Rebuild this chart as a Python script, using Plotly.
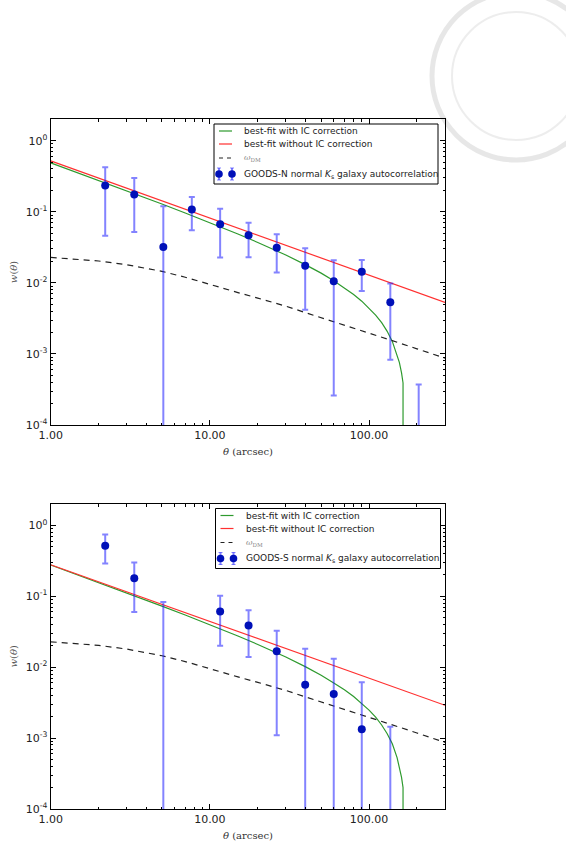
import numpy as np
import plotly.graph_objects as go

# ---------------- data ----------------
# GOODS-N normal Ks galaxy autocorrelation
theta_n = [2.2, 3.35, 5.1, 7.7, 11.6, 17.5, 26.3, 39.7, 60, 90, 136, 205]
w_n = [0.234, 0.175, 0.0319, 0.108, 0.0667, 0.0466, 0.0312, 0.0174, 0.01056, 0.0143, 0.00533, -0.0004]
err_n = [0.188, 0.123, 0.088, 0.053, 0.044, 0.0237, 0.0172, 0.0132, 0.0103, 0.0066, 0.0045, 0.00077]

# GOODS-S normal Ks galaxy autocorrelation
theta_s = [2.2, 3.35, 5.1, 11.6, 17.5, 26.3, 39.7, 60, 90, 136]
w_s = [0.516, 0.180, -0.010, 0.061, 0.0388, 0.0168, 0.00563, 0.0042, 0.00133, -0.0005]
err_s = [0.226, 0.12, 0.0927, 0.041, 0.0249, 0.0157, 0.0125, 0.0089, 0.0048, 0.00195]

# best-fit with IC correction (sampled off the curves)
theta_fit = [1, 2, 3, 5, 7, 10, 15, 20, 30, 40, 50, 60, 70, 80, 90, 100, 110, 120,
             130, 140, 150, 155, 160, 163.5, 163.6]
ic_n = [0.487, 0.2763, 0.1975, 0.1286, 0.0963, 0.0705, 0.0487, 0.0370, 0.0246, 0.0179,
        0.0137, 0.0107, 0.00854, 0.00686, 0.00552, 0.00443, 0.00352, 0.00275, 0.00208,
        0.00150, 0.00099, 0.00076, 0.00054, 0.00039, 1e-7]
ic_s = [0.2755, 0.1563, 0.1117, 0.0727, 0.0545, 0.0398, 0.0275, 0.0209, 0.0139, 0.0101,
        0.0077, 0.0060, 0.00481, 0.00386, 0.00310, 0.00248, 0.00197, 0.00153, 0.00115,
        0.00083, 0.00053, 0.00040, 0.00028, 0.00020, 1e-7]

# best-fit without IC correction (straight power laws)
theta_line = [1, 300]
noic_n = [0.52, 0.0053]
noic_s = [0.278, 0.0029]

# dark matter correlation function
theta_dm = [1, 1.5, 2, 3, 5, 7, 10, 15, 20, 30, 40, 60, 80, 100, 136, 200, 300]
w_dm = [0.0228, 0.0216, 0.0203, 0.0180, 0.0145, 0.0120, 0.0094, 0.0073, 0.0061, 0.0047,
        0.0038, 0.00285, 0.00232, 0.00197, 0.00157, 0.00118, 0.00087]

x_tickvals = [1, 10, 100]
x_ticktext = ["1.00", "10.00", "100.00"]
y_tickvals = [1e-4, 1e-3, 1e-2, 1e-1, 1]
y_ticktext = ["10<sup>-4</sup>", "10<sup>-3</sup>", "10<sup>-2</sup>", "10<sup>-1</sup>", "10<sup>0</sup>"]

legend_labels = ["best-fit with IC correction", "best-fit without IC correction",
                 "<i>ω</i><sub>DM</sub>"]
data_labels = ["GOODS-N normal <i>K</i><sub>s</sub> galaxy autocorrelation",
               "GOODS-S normal <i>K</i><sub>s</sub> galaxy autocorrelation"]

# ---------------- layout geometry ----------------
W, H = 566, 851
def px_x(p):
    return p / W
def px_y(p):
    return (H - p) / H

left, right = 50.7, 445
top1, bot1 = 119.3, 425
top2, bot2 = 504, 809

x_minor = [m * d for d in (1, 10, 100) for m in range(2, 10) if m * d <= 300]
y_minor = [m * d for d in (1e-4, 1e-3, 1e-2, 1e-1, 1) for m in range(2, 10) if m * d <= 2]

GREEN = "#2e9a2e"
RED = "#ff3030"
DASHC = "#222222"
BLUE_M = "#0010b8"
BLUE_E = "rgba(30,30,255,0.55)"

fig = go.Figure()

panels = [
    dict(xa="x", ya="y", th=theta_n, w=w_n, e=err_n, ic=ic_n, noic=noic_n),
    dict(xa="x2", ya="y2", th=theta_s, w=w_s, e=err_s, ic=ic_s, noic=noic_s),
]

for p in panels:
    fig.add_trace(go.Scatter(x=theta_fit, y=p["ic"], mode="lines", xaxis=p["xa"], yaxis=p["ya"],
                             line=dict(color=GREEN, width=1.2), name=legend_labels[0]))
    fig.add_trace(go.Scatter(x=theta_line, y=p["noic"], mode="lines", xaxis=p["xa"], yaxis=p["ya"],
                             line=dict(color=RED, width=1.2), name=legend_labels[1]))
    fig.add_trace(go.Scatter(x=theta_dm, y=w_dm, mode="lines", xaxis=p["xa"], yaxis=p["ya"],
                             line=dict(color=DASHC, width=1.2, dash="6px,5px"),
                             name=legend_labels[2]))
    fig.add_trace(go.Scatter(x=p["th"], y=p["w"], mode="markers", xaxis=p["xa"], yaxis=p["ya"],
                             marker=dict(color=BLUE_M, size=8),
                             error_y=dict(type="data", array=p["e"], visible=True, color=BLUE_E,
                                          thickness=2, width=3),
                             name="data"))
    # error bars of points whose value is negative (not drawable on a log axis):
    # anchor the bar at its upper end and let it run down past the axis.
    neg = [i for i, v in enumerate(p["w"]) if v <= 0]
    if neg:
        fig.add_trace(go.Scatter(
            x=[p["th"][i] for i in neg], y=[p["w"][i] + p["e"][i] for i in neg],
            mode="markers", xaxis=p["xa"], yaxis=p["ya"],
            marker=dict(color=BLUE_M, size=2, opacity=0),
            error_y=dict(type="data", symmetric=False, array=[0 for i in neg],
                         arrayminus=[2 * p["e"][i] for i in neg], visible=True,
                         color=BLUE_E, thickness=2, width=3),
            name="data (negative)", hoverinfo="skip"))

axis_common = dict(showline=True, linecolor="black", linewidth=1, mirror="allticks",
                   ticks="inside", ticklen=5, tickcolor="black", showgrid=False, zeroline=False,
                   type="log", automargin=False,
                   tickfont=dict(family="DejaVu Sans", size=11, color="#222"))

xa = dict(axis_common, range=[0, np.log10(300)], tickmode="array", tickvals=x_tickvals,
          ticktext=x_ticktext, domain=[px_x(left), px_x(right)],
          minor=dict(tickmode="array", tickvals=x_minor, ticks="inside", ticklen=2.5,
                     tickcolor="black", showgrid=False))
ya = dict(axis_common, range=[-4, np.log10(2.0)], tickmode="array", tickvals=y_tickvals,
          ticktext=y_ticktext,
          minor=dict(tickmode="array", tickvals=y_minor, ticks="inside", ticklen=2.5,
                     tickcolor="black", showgrid=False))

fig.update_layout(
    width=W, height=H, autosize=False,
    margin=dict(l=0, r=0, t=0, b=0),
    paper_bgcolor="white", plot_bgcolor="white",
    xaxis=dict(xa, anchor="y"),
    yaxis=dict(ya, anchor="x", domain=[px_y(bot1), px_y(top1)]),
    xaxis2=dict(xa, anchor="y2"),
    yaxis2=dict(ya, anchor="x2", domain=[px_y(bot2), px_y(top2)]),
    showlegend=False,
)

annos = []
shapes = []
legend_tops = [(124, 214, 438, 242), (508.5, 215.5, 440.5, 244)]
row_off = [7, 20, 34, 50]
for k, (tp, bt) in enumerate([(top1, bot1), (top2, bot2)]):
    annos.append(dict(x=px_x((left + right) / 2), y=px_y(bt + 26), xref="paper", yref="paper",
                      xanchor="center", yanchor="middle",
                      text="<i>θ</i> (arcsec)", showarrow=False,
                      font=dict(family="DejaVu Serif", size=10, color="#333")))
    annos.append(dict(x=px_x(13), y=px_y((tp + bt) / 2), xref="paper", yref="paper",
                      xanchor="center", yanchor="middle",
                      text="<i>w</i>(<i>θ</i>)", showarrow=False, textangle=-90,
                      font=dict(family="DejaVu Serif", size=10, color="#555")))

    # legend box (drawn by hand to match the compact matplotlib legend)
    ly, lx0, lx1, tx = legend_tops[k]
    shapes.append(dict(type="rect", xref="paper", yref="paper",
                       x0=px_x(lx0), x1=px_x(lx1), y0=px_y(ly + 60), y1=px_y(ly),
                       line=dict(color="black", width=1), fillcolor="white", layer="above"))
    sx0, sx1 = lx0 + 5, lx0 + 18
    styles = [dict(color=GREEN, width=1.2), dict(color=RED, width=1.2),
              dict(color=DASHC, width=1.2, dash="4px,4px")]
    for r in range(3):
        yy = ly + row_off[r]
        shapes.append(dict(type="line", xref="paper", yref="paper",
                           x0=px_x(sx0), x1=px_x(sx1), y0=px_y(yy), y1=px_y(yy),
                           line=styles[r], layer="above"))
        lab = legend_labels[r]
        fnt = dict(family="DejaVu Sans", size=9, color="#222")
        if r == 2:
            fnt = dict(family="DejaVu Serif", size=8, color="#888")
        annos.append(dict(x=px_x(tx), y=px_y(yy), xref="paper", yref="paper",
                          xanchor="left", yanchor="middle", text=lab, showarrow=False,
                          font=fnt))
    yy = ly + row_off[3]
    for mx in (lx0 + 5, lx0 + 18):
        shapes.append(dict(type="line", xref="paper", yref="paper",
                           x0=px_x(mx), x1=px_x(mx), y0=px_y(yy + 6), y1=px_y(yy - 6),
                           line=dict(color=BLUE_E, width=2), layer="above"))
        for cy in (yy - 6, yy + 6):
            shapes.append(dict(type="line", xref="paper", yref="paper",
                               x0=px_x(mx - 2), x1=px_x(mx + 2), y0=px_y(cy), y1=px_y(cy),
                               line=dict(color=BLUE_E, width=1), layer="above"))
        shapes.append(dict(type="circle", xref="paper", yref="paper",
                           x0=px_x(mx - 3.8), x1=px_x(mx + 3.8),
                           y0=px_y(yy + 3.8), y1=px_y(yy - 3.8),
                           line=dict(color=BLUE_M, width=0), fillcolor=BLUE_M, layer="above"))
    annos.append(dict(x=px_x(tx), y=px_y(yy), xref="paper", yref="paper",
                      xanchor="left", yanchor="middle", text=data_labels[k], showarrow=False,
                      font=dict(family="DejaVu Sans", size=9, color="#222")))

# faint seal watermark in the top-right corner
shapes.append(dict(type="circle", xref="paper", yref="paper",
                   x0=px_x(432), x1=px_x(600), y0=px_y(160), y1=px_y(-8),
                   line=dict(color="rgba(185,185,185,0.35)", width=5), layer="below"))
shapes.append(dict(type="circle", xref="paper", yref="paper",
                   x0=px_x(452), x1=px_x(580), y0=px_y(140), y1=px_y(12),
                   line=dict(color="rgba(185,185,185,0.25)", width=2), layer="below"))

fig.update_layout(annotations=annos, shapes=shapes)

fig.write_html("out.html")
